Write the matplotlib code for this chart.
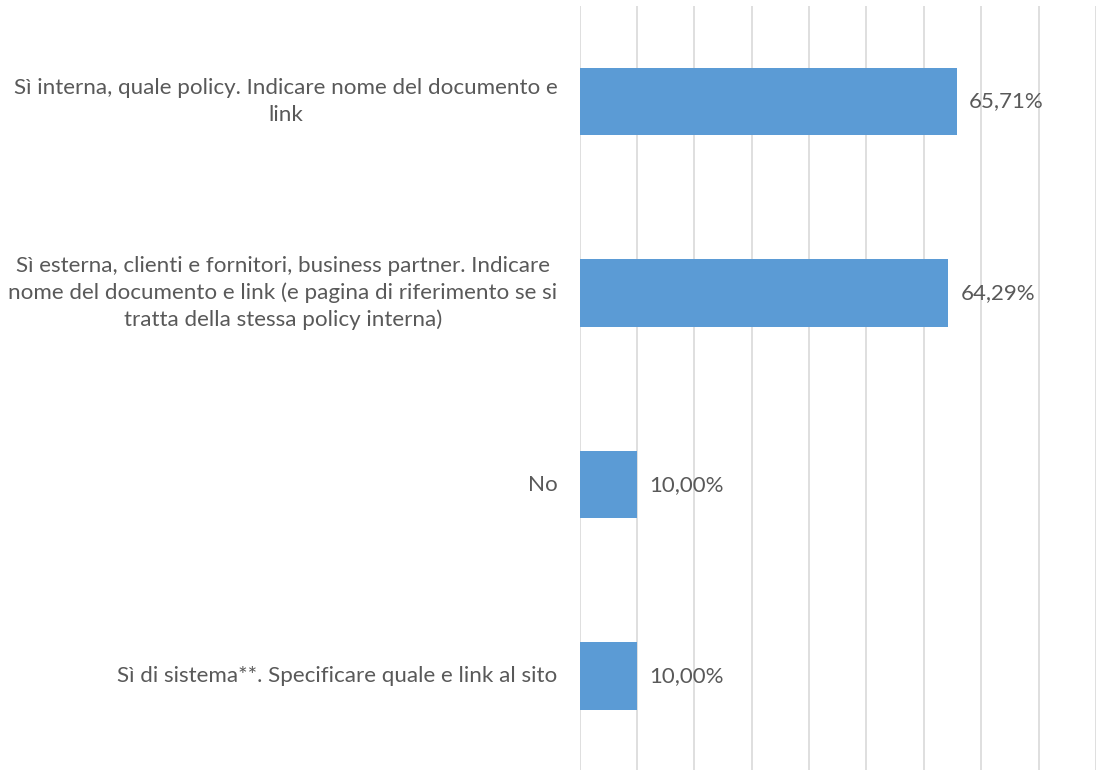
import matplotlib.pyplot as plt
from matplotlib.ticker import MultipleLocator

# categories from bottom to top
categories = [
    "Sì di sistema**. Specificare quale e link al sito",
    "No",
    "Sì esterna, clienti e fornitori, business partner. Indicare\nnome del documento e link (e pagina di riferimento se si\ntratta della stessa policy interna)",
    "Sì interna, quale policy. Indicare nome del documento e\nlink",
]
values = [10.00, 10.00, 64.29, 65.71]
value_labels = ["10,00%", "10,00%", "64,29%", "65,71%"]

plt.rcParams['font.family'] = ['Lato', 'DejaVu Sans']
text_color = "#595959"

fig = plt.figure(figsize=(11.14, 7.7), dpi=100)
W, H = 1114, 770
# plot area in pixels: x 579.5 -> 1096 (0..90%), y 5.7 -> 772
ax = fig.add_axes([579.5 / W, (H - 772) / H, (1096 - 579.5) / W, (772 - 5.7) / H])

pos = range(len(categories))
ax.barh(pos, values, height=0.352, color="#5B9BD5", zorder=3)

ax.set_xlim(0, 90)
ax.set_ylim(-0.5, len(categories) - 0.5)
ax.xaxis.set_major_locator(MultipleLocator(10))
ax.grid(axis="x", color="#D9D9D9", linewidth=1.2, zorder=0)
ax.set_xticklabels([])
ax.tick_params(axis="both", length=0)
for s in ax.spines.values():
    s.set_visible(False)

ax.set_yticks(list(pos))
ax.set_yticklabels([])
for p, c in zip(pos, categories):
    ax.annotate(c, xy=(0, p), xycoords="data", xytext=(-22, 0),
                textcoords="offset pixels", ha="right", va="center",
                multialignment="center", fontsize=16.1, color=text_color,
                linespacing=1.4, annotation_clip=False)

for p, v, lab in zip(pos, values, value_labels):
    ax.annotate(lab, xy=(v, p), xytext=(12, 0), textcoords="offset pixels",
                ha="left", va="center", fontsize=16, color=text_color)

fig.savefig("out.png", dpi=100)
